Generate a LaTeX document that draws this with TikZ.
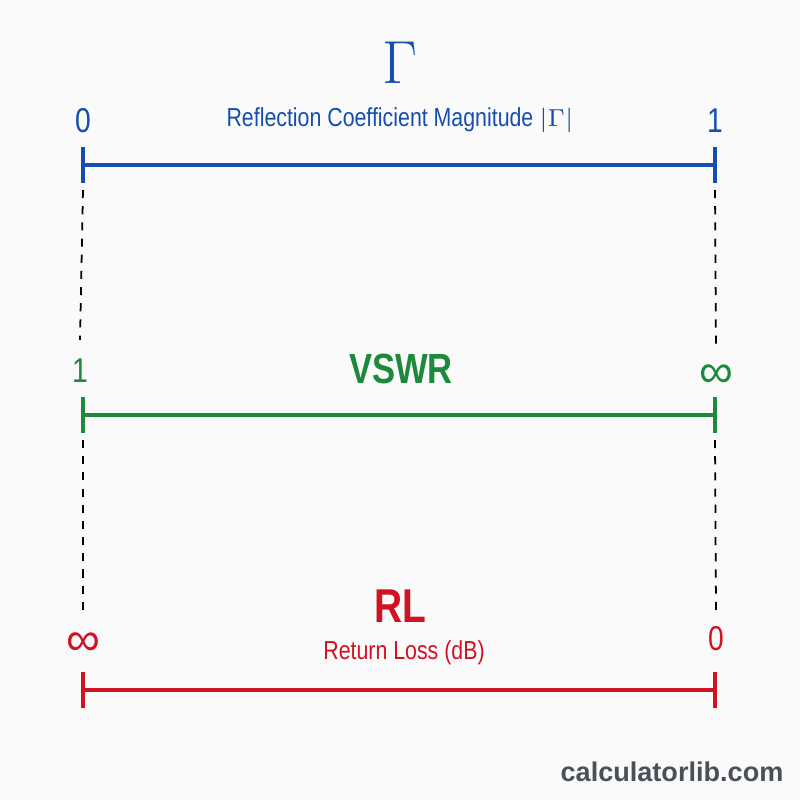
\documentclass[tikz,border=0pt]{standalone}
\usepackage{fontspec}
\setmainfont{Liberation Sans}
\newfontfamily\etroite[FakeStretch=0.82]{Liberation Sans}
\definecolor{bleu}{RGB}{22,78,176}
\definecolor{vert}{RGB}{28,138,58}
\definecolor{rouge}{RGB}{208,18,34}
\definecolor{gris}{RGB}{74,79,90}
\definecolor{fond}{RGB}{250,250,250}
\begin{document}
\begin{tikzpicture}[x=0.01cm,y=-0.01cm]
		% Styles
		\tikzstyle{echelle}=[line width=0.9pt]
		\tikzstyle{pointille}=[black,line width=0.5pt,dash pattern=on 2.3pt off 2.3pt]
		\tikzstyle{borne}=[inner sep=0pt,anchor=base,font=\etroite\fontsize{9.8}{10}\selectfont]
		\tikzstyle{infini}=[inner sep=0pt,font=\fontsize{13.5}{14}\selectfont]
		\tikzstyle{grandeur}=[inner sep=0pt,anchor=base,font=\etroite\bfseries\fontsize{12}{13}\selectfont]
		\tikzstyle{legende}=[inner sep=0pt,anchor=base,font=\etroite\fontsize{7.4}{8}\selectfont]
		% Dimensions
		\def\Gauche{83}
		\def\Droite{715}
		\def\Milieu{400}
		\def\NiveauG{165}
		\def\NiveauV{415}
		\def\NiveauR{690}
		\def\Tic{18}
		% Fond
		\fill[fond] (0,0) rectangle (800,800);
		\useasboundingbox (0,0) rectangle (800,800);
		% Echelle du coefficient de reflexion
		\node[inner sep=0pt,anchor=base,bleu,font=\fontsize{17}{18}\selectfont] (gamma) at (\Milieu,83) {$\Gamma$};
		\node[borne,bleu] (G0) at (\Gauche,132) {0};
		\node[borne,bleu] (G1) at (\Droite,132) {1};
		\node[legende,bleu] (Gtxt) at (\Milieu,126) {Reflection Coefficient Magnitude $|\Gamma|$};
		\coordinate (Ga) at (\Gauche,\NiveauG);
		\coordinate (Gb) at (\Droite,\NiveauG);
		\draw[echelle,bleu] (Ga)--(Gb);
		\draw[echelle,bleu] (Ga) ++(0,-\Tic)--++(0,2*\Tic);
		\draw[echelle,bleu] (Gb) ++(0,-\Tic)--++(0,2*\Tic);
		% Echelle du ROS
		\node[borne,vert] (V1) at (\Gauche-3,382) {1};
		\node[infini,vert] (Vinf) at (\Droite+1,376) {∞};
		\node[grandeur,vert] (Vtxt) at (\Milieu+1,383) {VSWR};
		\coordinate (Va) at (\Gauche,\NiveauV);
		\coordinate (Vb) at (\Droite,\NiveauV);
		\draw[echelle,vert] (Va)--(Vb);
		\draw[echelle,vert] (Va) ++(0,-\Tic)--++(0,2*\Tic);
		\draw[echelle,vert] (Vb) ++(0,-\Tic)--++(0,2*\Tic);
		% Echelle des pertes de retour
		\node[grandeur,rouge,font=\etroite\bfseries\fontsize{13.5}{14}\selectfont] (Rtxt) at (\Milieu,622) {RL};
		\node[legende,rouge] (Rsous) at (\Milieu+4,659) {Return Loss (dB)};
		\node[infini,rouge] (Rinf) at (\Gauche,644) {∞};
		\node[borne,rouge] (R0) at (\Droite+1,650) {0};
		\coordinate (Ra) at (\Gauche,\NiveauR);
		\coordinate (Rb) at (\Droite,\NiveauR);
		\draw[echelle,rouge] (Ra)--(Rb);
		\draw[echelle,rouge] (Ra) ++(0,-\Tic)--++(0,2*\Tic);
		\draw[echelle,rouge] (Rb) ++(0,-\Tic)--++(0,2*\Tic);
		% Pointilles
		\coordinate (Gc) at (\Gauche,190);
		\coordinate (Gd) at (\Droite,190);
		\coordinate (Vc) at (\Gauche,440);
		\coordinate (Vd) at (\Droite,440);
		\draw[pointille] (Gc)--([yshift=5pt]V1.north);
		\draw[pointille] (Gd)--([yshift=4pt]Vinf.north);
		\draw[pointille] (Vc)--([yshift=4pt]Rinf.north);
		\draw[pointille] (Vd)--([yshift=4pt]R0.north);
		% Marque
		\node[inner sep=0pt,anchor=base,gris,font=\bfseries\fontsize{7.7}{8}\selectfont] (site) at (672,781) {calculatorlib.com};
\end{tikzpicture}
\end{document}
